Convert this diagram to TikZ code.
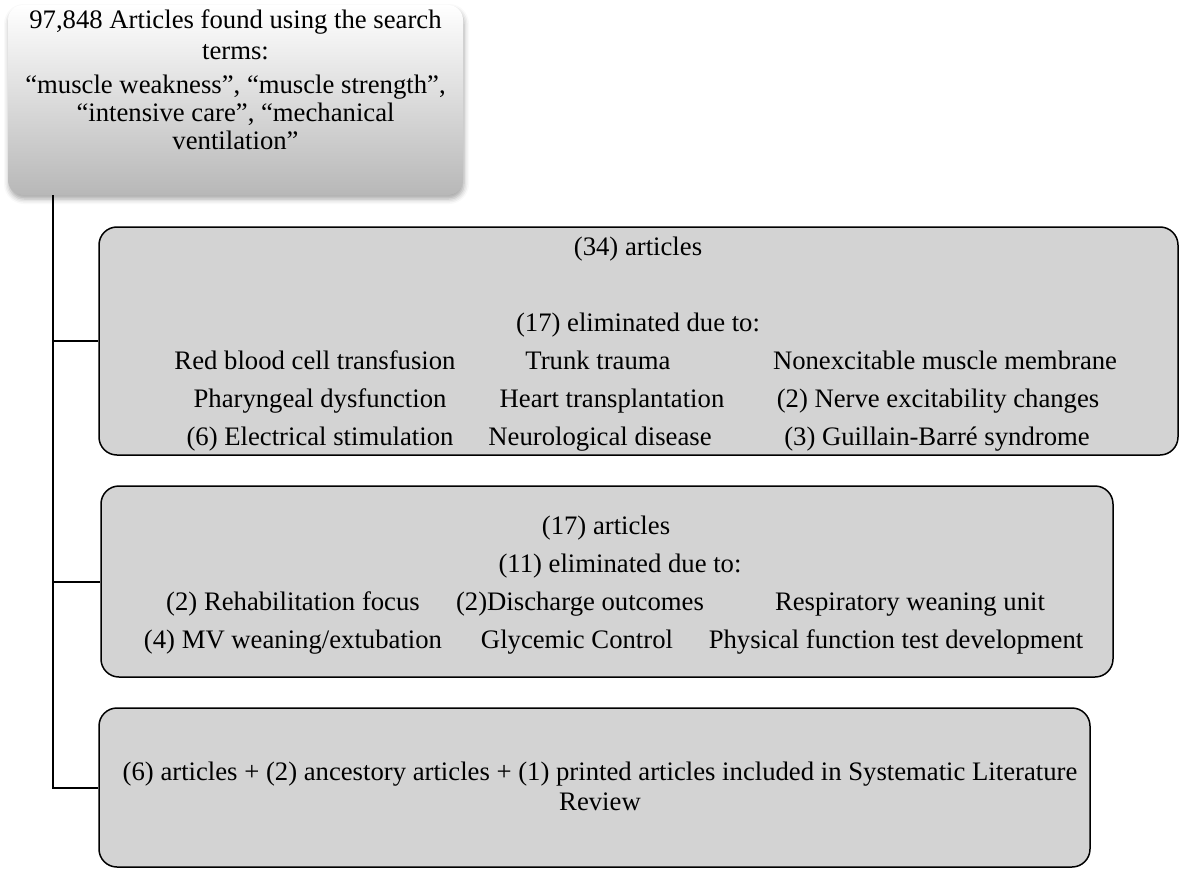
\documentclass[tikz,border=0pt]{standalone}
\usepackage{fontspec}
\setmainfont{Liberation Serif}
\usetikzlibrary{shadows.blur}
\definecolor{boxgray}{HTML}{D3D3D3}

\begin{document}
\begin{tikzpicture}[x=1pt, y=-1pt, thick,
		every node/.style={font=\fontsize{26.7}{28}\selectfont, inner sep=0pt},
		searchbox/.style={rounded corners=15pt, top color=white, bottom color=black!28,
			blur shadow={shadow xshift=1pt, shadow yshift=-4pt, shadow opacity=35, shadow blur radius=5pt}},
		stagebox/.style={draw, line width=1.5pt, rounded corners=18pt, fill=boxgray},
		label text/.style={anchor=base},
		link/.style={line width=2pt}
		]
	\useasboundingbox (0,0) rectangle (1183,872);

	% search terms
	\node [searchbox, minimum width=455pt, minimum height=190pt] (search) at (235.5,100) {};
	\node [anchor=north, align=center] (terms) at (235.5,9)
		{97,848 Articles found using the search\\[3pt]terms:\\[6pt]
		 “muscle weakness”, “muscle strength”,\\“intensive care”, “mechanical\\ventilation”};

	% stage boxes
	\node [stagebox, minimum width=1079pt, minimum height=228pt] (elim1) at (638.5,341) {};
	\node [stagebox, minimum width=1012pt, minimum height=191pt] (elim2) at (607,581.5) {};
	\node [stagebox, minimum width=991pt, minimum height=159pt] (final) at (594.5,787.5) {};

	% first screening
	\node [label text] (n34) at (638,255) {(34) articles};
	\node [label text] (e17) at (638,331) {(17) eliminated due to:};
	\node [label text] (r11) at (315,369) {Red blood cell transfusion};
	\node [label text] (r12) at (598,369) {Trunk trauma};
	\node [label text] (r13) at (945,369) {Nonexcitable muscle membrane};
	\node [label text] (r21) at (320,407) {Pharyngeal dysfunction};
	\node [label text] (r22) at (612,407) {Heart transplantation};
	\node [label text] (r23) at (938,407) {(2) Nerve excitability changes};
	\node [label text] (r31) at (320,445) {(6) Electrical stimulation};
	\node [label text] (r32) at (600,445) {Neurological disease};
	\node [label text] (r33) at (937,445) {(3) Guillain-Barré syndrome};

	% second screening
	\node [label text] (n17) at (606,534) {(17) articles};
	\node [label text] (e11) at (620,572) {(11) eliminated due to:};
	\node [label text] (s11) at (293,610) {(2) Rehabilitation focus};
	\node [label text] (s12) at (580,610) {(2)Discharge outcomes};
	\node [label text] (s13) at (910,610) {Respiratory weaning unit};
	\node [label text] (s21) at (293,648) {(4) MV weaning/extubation};
	\node [label text] (s22) at (577,648) {Glycemic Control};
	\node [label text] (s23) at (896,648) {Physical function test development};

	% included
	\node [align=center, font=\fontsize{26.7}{30}\selectfont] (incl) at (600,786)
		{(6) articles + (2) ancestory articles + (1) printed articles included in Systematic Literature\\Review};

	% connectors
	\coordinate (spine) at (53,0);
	\draw [link] (spine |- search.south) |- (elim1.west);
	\draw [link] (spine |- search.south) |- (elim2.west);
	\draw [link] (spine |- search.south) |- (final.west);
\end{tikzpicture}
\end{document}
